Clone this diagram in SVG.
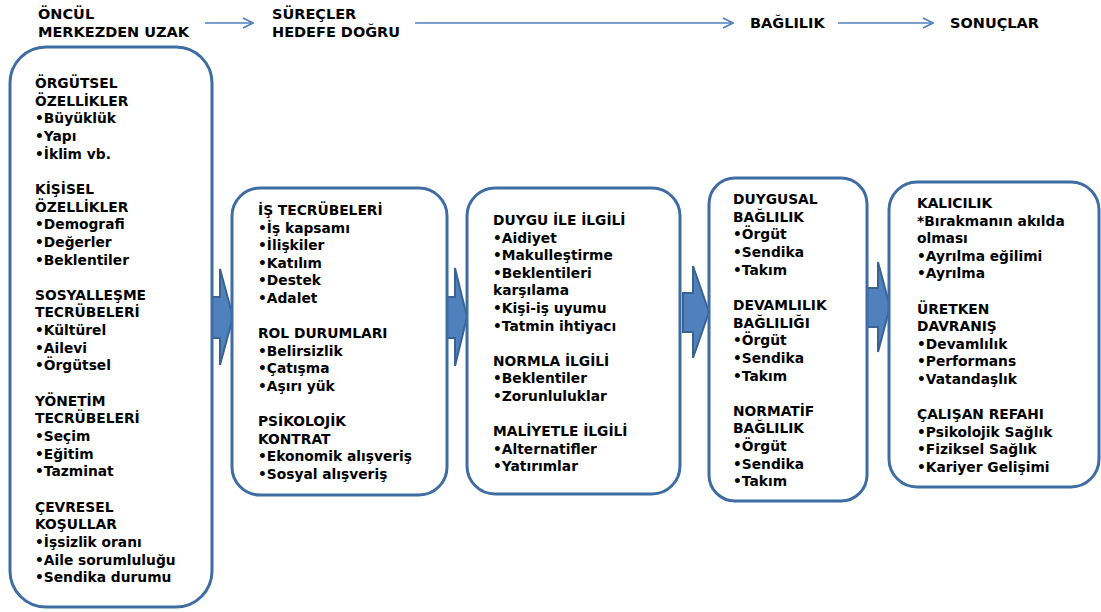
<svg xmlns="http://www.w3.org/2000/svg" width="1101" height="612" viewBox="0 0 1101 612">
  <style>
    .box { fill: #ffffff; stroke: #3e6ca3; stroke-width: 3; }
    .blk { fill: #4f81bd; stroke: #3a6394; stroke-width: 2; stroke-linejoin: miter; }
    .hdr { font-family: "DejaVu Sans", "Liberation Sans", sans-serif; font-weight: bold; font-size: 14.5px; fill: #000000; }
    .txt { font-family: "DejaVu Sans", "Liberation Sans", sans-serif; font-weight: bold; font-size: 13.8px; fill: #000000; }
    .flow { fill: none; stroke: #4f81bd; stroke-width: 1.6; }
  </style>
  <defs>
    <marker id="chev" viewBox="0 0 12 12" refX="11" refY="6" markerWidth="12" markerHeight="12" markerUnits="userSpaceOnUse" orient="auto">
      <path d="M1,1 L11,6 L1,11" fill="none" stroke="#4f81bd" stroke-width="1.6"/>
    </marker>
  </defs>
  <rect width="1101" height="612" fill="#ffffff"/>

  <!-- header row -->
  <g id="header">
    <text class="hdr" x="38" y="19">ÖNCÜL</text>
    <text class="hdr" x="38" y="37">MERKEZDEN UZAK</text>
    <text class="hdr" x="272" y="19">SÜREÇLER</text>
    <text class="hdr" x="272" y="37">HEDEFE DOĞRU</text>
    <text class="hdr" x="750" y="28">BAĞLILIK</text>
    <text class="hdr" x="950" y="28">SONUÇLAR</text>
  </g>

  <!-- connectors -->
  <g id="connectors">
    <line class="flow" x1="205" y1="23" x2="253" y2="23" marker-end="url(#chev)"/>
    <line class="flow" x1="415" y1="23" x2="733" y2="23" marker-end="url(#chev)"/>
    <line class="flow" x1="838" y1="23" x2="933" y2="23" marker-end="url(#chev)"/>
    <polygon class="blk" points="211,297 220,297 220,269 233,317 220,365 220,338 211,338"/>
    <polygon class="blk" points="446,297 455,297 455,268 467,317 455,366 455,338 446,338"/>
    <polygon class="blk" points="683,293 693,293 693,266 709,312 693,358 693,332 683,332"/>
    <polygon class="blk" points="867,288 878,288 878,262 890,307 878,352 878,327 867,327"/>
  </g>

  <g id="antecedents">
    <rect class="box" x="10" y="47" width="202" height="560" rx="36" ry="36"/>
    <text class="txt" x="35" y="88">
      <tspan x="35" dy="0">ÖRGÜTSEL</tspan>
      <tspan x="35" dy="17.65">ÖZELLİKLER</tspan>
      <tspan x="35" dy="17.65">•Büyüklük</tspan>
      <tspan x="35" dy="17.65">•Yapı</tspan>
      <tspan x="35" dy="17.65">•İklim vb.</tspan>
      <tspan x="35" dy="35.3">KİŞİSEL</tspan>
      <tspan x="35" dy="17.65">ÖZELLİKLER</tspan>
      <tspan x="35" dy="17.65">•Demografi</tspan>
      <tspan x="35" dy="17.65">•Değerler</tspan>
      <tspan x="35" dy="17.65">•Beklentiler</tspan>
      <tspan x="35" dy="35.3">SOSYALLEŞME</tspan>
      <tspan x="35" dy="17.65">TECRÜBELERİ</tspan>
      <tspan x="35" dy="17.65">•Kültürel</tspan>
      <tspan x="35" dy="17.65">•Ailevi</tspan>
      <tspan x="35" dy="17.65">•Örgütsel</tspan>
      <tspan x="35" dy="35.3">YÖNETİM</tspan>
      <tspan x="35" dy="17.65">TECRÜBELERİ</tspan>
      <tspan x="35" dy="17.65">•Seçim</tspan>
      <tspan x="35" dy="17.65">•Eğitim</tspan>
      <tspan x="35" dy="17.65">•Tazminat</tspan>
      <tspan x="35" dy="35.3">ÇEVRESEL</tspan>
      <tspan x="35" dy="17.65">KOŞULLAR</tspan>
      <tspan x="35" dy="17.65">•İşsizlik oranı</tspan>
      <tspan x="35" dy="17.65">•Aile sorumluluğu</tspan>
      <tspan x="35" dy="17.65">•Sendika durumu</tspan>
    </text>
  </g>

  <g id="processes">
    <rect class="box" x="232" y="188" width="215" height="307" rx="28" ry="28"/>
    <text class="txt" x="258" y="215">
      <tspan x="258" dy="0">İŞ TECRÜBELERİ</tspan>
      <tspan x="258" dy="17.6">•İş kapsamı</tspan>
      <tspan x="258" dy="17.6">•İlişkiler</tspan>
      <tspan x="258" dy="17.6">•Katılım</tspan>
      <tspan x="258" dy="17.6">•Destek</tspan>
      <tspan x="258" dy="17.6">•Adalet</tspan>
      <tspan x="258" dy="35.2">ROL DURUMLARI</tspan>
      <tspan x="258" dy="17.6">•Belirsizlik</tspan>
      <tspan x="258" dy="17.6">•Çatışma</tspan>
      <tspan x="258" dy="17.6">•Aşırı yük</tspan>
      <tspan x="258" dy="35.2">PSİKOLOJİK</tspan>
      <tspan x="258" dy="17.6">KONTRAT</tspan>
      <tspan x="258" dy="17.6">•Ekonomik alışveriş</tspan>
      <tspan x="258" dy="17.6">•Sosyal alışveriş</tspan>
    </text>
  </g>

  <g id="bases">
    <rect class="box" x="467" y="188" width="213" height="306" rx="28" ry="28"/>
    <text class="txt" x="493" y="225">
      <tspan x="493" dy="0">DUYGU İLE İLGİLİ</tspan>
      <tspan x="493" dy="17.6">•Aidiyet</tspan>
      <tspan x="493" dy="17.6">•Makulleştirme</tspan>
      <tspan x="493" dy="17.6">•Beklentileri</tspan>
      <tspan x="493" dy="17.6">karşılama</tspan>
      <tspan x="493" dy="17.6">•Kişi-iş uyumu</tspan>
      <tspan x="493" dy="17.6">•Tatmin ihtiyacı</tspan>
      <tspan x="493" dy="35.2">NORMLA İLGİLİ</tspan>
      <tspan x="493" dy="17.6">•Beklentiler</tspan>
      <tspan x="493" dy="17.6">•Zorunluluklar</tspan>
      <tspan x="493" dy="35.2">MALİYETLE İLGİLİ</tspan>
      <tspan x="493" dy="17.6">•Alternatifler</tspan>
      <tspan x="493" dy="17.6">•Yatırımlar</tspan>
    </text>
  </g>

  <g id="commitment">
    <rect class="box" x="709" y="178" width="158" height="323" rx="26" ry="26"/>
    <text class="txt" x="733" y="204">
      <tspan x="733" dy="0">DUYGUSAL</tspan>
      <tspan x="733" dy="17.65">BAĞLILIK</tspan>
      <tspan x="733" dy="17.65">•Örgüt</tspan>
      <tspan x="733" dy="17.65">•Sendika</tspan>
      <tspan x="733" dy="17.65">•Takım</tspan>
      <tspan x="733" dy="35.3">DEVAMLILIK</tspan>
      <tspan x="733" dy="17.65">BAĞLILIĞI</tspan>
      <tspan x="733" dy="17.65">•Örgüt</tspan>
      <tspan x="733" dy="17.65">•Sendika</tspan>
      <tspan x="733" dy="17.65">•Takım</tspan>
      <tspan x="733" dy="35.3">NORMATİF</tspan>
      <tspan x="733" dy="17.65">BAĞLILIK</tspan>
      <tspan x="733" dy="17.65">•Örgüt</tspan>
      <tspan x="733" dy="17.65">•Sendika</tspan>
      <tspan x="733" dy="17.65">•Takım</tspan>
    </text>
  </g>

  <g id="outcomes">
    <rect class="box" x="889" y="182" width="210" height="305" rx="28" ry="28"/>
    <text class="txt" x="917" y="208">
      <tspan x="917" dy="0">KALICILIK</tspan>
      <tspan x="917" dy="17.6">*Bırakmanın akılda</tspan>
      <tspan x="917" dy="17.6">olması</tspan>
      <tspan x="917" dy="17.6">•Ayrılma eğilimi</tspan>
      <tspan x="917" dy="17.6">•Ayrılma</tspan>
      <tspan x="917" dy="35.2">ÜRETKEN</tspan>
      <tspan x="917" dy="17.6">DAVRANIŞ</tspan>
      <tspan x="917" dy="17.6">•Devamlılık</tspan>
      <tspan x="917" dy="17.6">•Performans</tspan>
      <tspan x="917" dy="17.6">•Vatandaşlık</tspan>
      <tspan x="917" dy="35.2">ÇALIŞAN REFAHI</tspan>
      <tspan x="917" dy="17.6">•Psikolojik Sağlık</tspan>
      <tspan x="917" dy="17.6">•Fiziksel Sağlık</tspan>
      <tspan x="917" dy="17.6">•Kariyer Gelişimi</tspan>
    </text>
  </g>
</svg>
